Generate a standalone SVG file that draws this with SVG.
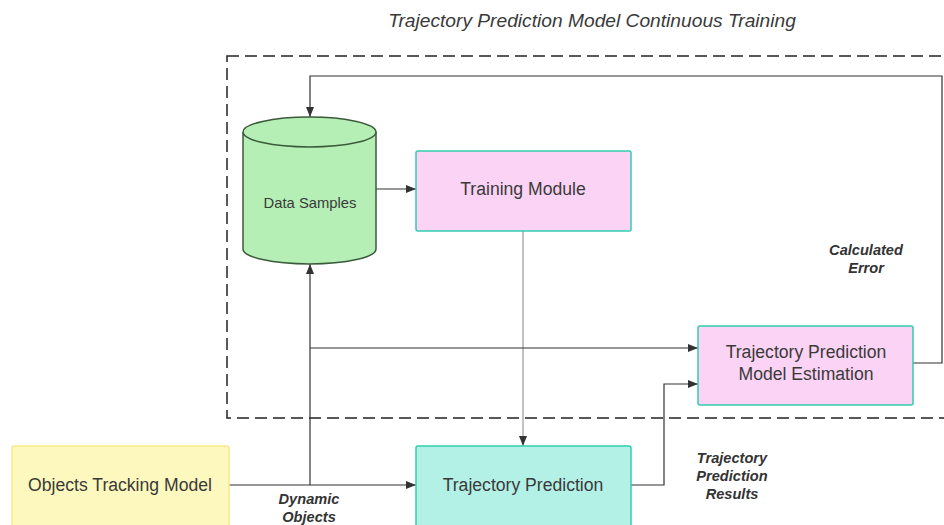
<svg xmlns="http://www.w3.org/2000/svg" width="944" height="525" viewBox="0 0 944 525">
<style>
.t{font-family:"Liberation Sans",Arial,sans-serif;fill:#3a3a3a}
.node{font-size:17.6px;text-anchor:middle}
.lbl{font-size:14.6px;font-weight:bold;font-style:italic;text-anchor:middle;fill:#333}
.c{fill:none;stroke:#333;stroke-width:1.2}
.cl{fill:none;stroke:#999;stroke-width:1.2}
</style>
<defs>
<marker id="ah" viewBox="0 0 10 10" refX="10" refY="5" markerWidth="10" markerHeight="10" markerUnits="userSpaceOnUse" orient="auto">
<path d="M0,1 L10,5 L0,9 z" fill="#333"/>
</marker>
</defs>
<rect width="944" height="525" fill="#fff"/>
<text class="t" x="592" y="27" font-size="19.2" font-style="italic" text-anchor="middle" fill="#333">Trajectory Prediction Model Continuous Training</text>
<rect id="boundary" x="227" y="56" width="730" height="362" fill="none" stroke="#222" stroke-width="1.5" stroke-dasharray="12,6"/>
<g id="connectors">
<path class="c" d="M376,189 H416" marker-end="url(#ah)"/>
<path class="cl" d="M523,231 V446" marker-end="url(#ah)"/>
<path class="c" d="M229,485 H416" marker-end="url(#ah)"/>
<path class="c" d="M310,485 V264" marker-end="url(#ah)"/>
<path class="c" d="M310,348 H698" marker-end="url(#ah)"/>
<path class="c" d="M631,485 H664 V384 H698" marker-end="url(#ah)" stroke="#666"/>
<path class="c" d="M913,363 H942 V76 H310 V117" marker-end="url(#ah)" stroke="#555"/>
</g>
<g id="data-samples">
<path d="M243,132 V249 A66.5,15 0 0 0 376,249 V132" fill="#b5efb5" stroke="#3b5a3b" stroke-width="1.5"/>
<ellipse cx="309.5" cy="132" rx="66.5" ry="15" fill="#b5efb5" stroke="#3b5a3b" stroke-width="1.5"/>
<text class="t" x="310" y="208" font-size="14.8" text-anchor="middle">Data Samples</text>
</g>
<g id="training-module">
<rect x="416" y="151" width="215" height="80" rx="2" fill="#fbd3f4" stroke="#2fcfae" stroke-width="1.5"/>
<text class="t node" x="523" y="195">Training Module</text>
</g>
<g id="trajectory-prediction">
<rect x="416" y="446" width="215" height="85" rx="2" fill="#b3f0e6" stroke="#2fcfae" stroke-width="1.5"/>
<text class="t node" x="523" y="491">Trajectory Prediction</text>
</g>
<g id="objects-tracking">
<rect x="12" y="446" width="217" height="85" rx="2" fill="#fdf8bd" stroke="#f7ea8a" stroke-width="1.5"/>
<text class="t node" x="120" y="491">Objects Tracking Model</text>
</g>
<g id="tpme">
<rect x="698" y="326" width="215" height="79" rx="2" fill="#fbd3f4" stroke="#2fcfae" stroke-width="1.5"/>
<text class="t node" x="806" y="358">Trajectory Prediction</text>
<text class="t node" x="806" y="380">Model Estimation</text>
</g>
<g id="labels">
<text class="t lbl" x="866" y="255">Calculated</text>
<text class="t lbl" x="866" y="273">Error</text>
<text class="t lbl" x="309" y="504">Dynamic</text>
<text class="t lbl" x="309" y="522">Objects</text>
<text class="t lbl" x="732" y="463">Trajectory</text>
<text class="t lbl" x="732" y="481">Prediction</text>
<text class="t lbl" x="732" y="499">Results</text>
</g>
</svg>
